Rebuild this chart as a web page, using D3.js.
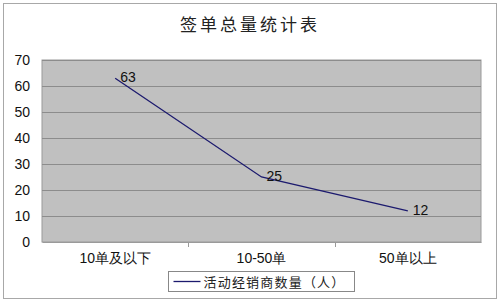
<!DOCTYPE html>
<html>
<head>
<meta charset="utf-8">
<script src="https://cdn.jsdelivr.net/npm/d3@7"></script>
<style>
  body { margin: 0; background: #fff; }
  text { font-family: "Liberation Sans", Arial, sans-serif; }
  .cjk { font-family: "Noto Sans CJK SC", sans-serif; }
</style>
</head>
<body>
<div id="chart"></div>
<script>
var categories = ["10单及以下", "10-50单", "50单以上"];
var values = [63, 25, 12];
var yTicks = [0, 10, 20, 30, 40, 50, 60, 70];
var seriesName = "活动经销商数量（人）";
var chartTitle = "签单总量统计表";

var svgWidth = 500;
var svgHeight = 303;

var margin = { top: 60, right: 19, bottom: 61, left: 42 };
var width = svgWidth - margin.left - margin.right;
var height = svgHeight - margin.top - margin.bottom;

var svg = d3.select("#chart")
    .append("svg")
    .attr("width", svgWidth)
    .attr("height", svgHeight);

// outer frame
svg.append("rect")
    .attr("x", 3.5).attr("y", 3.5)
    .attr("width", 493).attr("height", 295)
    .attr("fill", "#fff")
    .attr("stroke", "#a8a8a8");

svg.append("text")
    .classed("cjk", true)
    .attr("x", 250).attr("y", 31)
    .attr("text-anchor", "middle")
    .attr("font-size", "17px")
    .attr("letter-spacing", "3px")
    .attr("fill", "#222")
    .text(chartTitle);

var chartGroup = svg.append("g")
    .attr("transform", `translate(${margin.left}, ${margin.top})`);

var xBand = d3.scaleBand()
    .domain(categories)
    .range([0, width]);

var yScale = d3.scaleLinear()
    .domain([0, 70])
    .range([height, 0]);

// plot background
chartGroup.append("rect")
    .attr("width", width)
    .attr("height", height)
    .attr("fill", "#c0c0c0")
    .attr("stroke", "#9a9a9a");

// gridlines
chartGroup.append("g")
    .selectAll("line")
    .data(yTicks.filter(d => d > 0))
    .enter()
    .append("line")
    .attr("x1", 0).attr("x2", width)
    .attr("y1", d => Math.round(yScale(d)) + 0.5)
    .attr("y2", d => Math.round(yScale(d)) + 0.5)
    .attr("stroke", "#8c8c8c");

// y axis labels
var leftAxis = d3.axisLeft(yScale).tickValues(yTicks).tickSize(0).tickPadding(12);
var yAxis = chartGroup.append("g").call(leftAxis);
yAxis.select(".domain").remove();
yAxis.selectAll("text").attr("font-size", "14px").attr("fill", "#111")
    .attr("font-family", "Liberation Sans, Arial, sans-serif");

// x axis labels, centred in each band
var bottomAxis = d3.axisBottom(xBand).tickSize(0).tickPadding(11);
var xAxis = chartGroup.append("g")
    .attr("transform", `translate(0, ${height})`)
    .call(bottomAxis);
xAxis.select(".domain").attr("stroke", "#9a9a9a");
xAxis.selectAll("text").attr("font-size", "14px").attr("fill", "#111")
    .attr("font-family", "Liberation Sans, Noto Sans CJK SC, sans-serif");

// band divider ticks
xAxis.selectAll(".divider")
    .data(categories.slice(1))
    .enter()
    .append("line")
    .classed("divider", true)
    .attr("x1", d => Math.round(xBand(d)) + 0.5)
    .attr("x2", d => Math.round(xBand(d)) + 0.5)
    .attr("y1", 0).attr("y2", 5)
    .attr("stroke", "#9a9a9a");

// the line
var cx = d => xBand(d) + xBand.bandwidth() / 2;
var line = d3.line()
    .x((d, i) => cx(categories[i]))
    .y(d => yScale(d));

chartGroup.append("path")
    .datum(values)
    .attr("d", line)
    .attr("fill", "none")
    .attr("stroke", "#1c1a6e")
    .attr("stroke-width", 1.3);

chartGroup.selectAll(".valLabel")
    .data(values)
    .enter()
    .append("text")
    .classed("valLabel", true)
    .attr("x", (d, i) => cx(categories[i]) + 5)
    .attr("y", d => yScale(d) + 4)
    .attr("font-size", "14px")
    .attr("fill", "#111")
    .text(d => d);

// legend
var legend = svg.append("g").attr("transform", "translate(168.5, 271.5)");
legend.append("rect")
    .attr("width", 186).attr("height", 20)
    .attr("fill", "#fff")
    .attr("stroke", "#888");
legend.append("line")
    .attr("x1", 5).attr("x2", 32)
    .attr("y1", 10).attr("y2", 10)
    .attr("stroke", "#1c1a6e")
    .attr("stroke-width", 1.3);
legend.append("text")
    .classed("cjk", true)
    .attr("x", 35).attr("y", 15)
    .attr("font-size", "13px")
    .attr("letter-spacing", "1.2px")
    .attr("fill", "#222")
    .text(seriesName);
</script>
</body>
</html>
